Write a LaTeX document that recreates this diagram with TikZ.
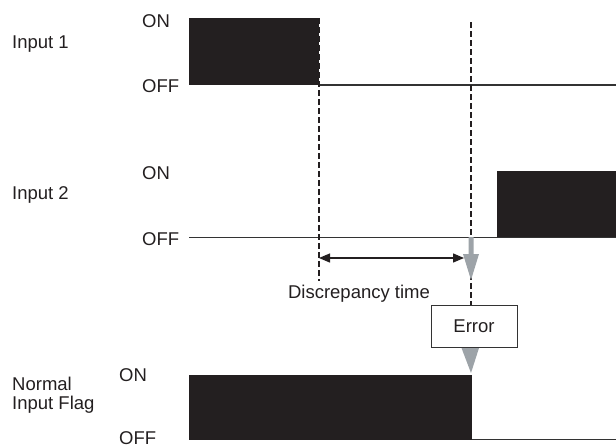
\documentclass[tikz,border=0pt]{standalone}
\usepackage{fontspec}
\setmainfont{Liberation Sans}
\usetikzlibrary{arrows.meta}
\definecolor{blk}{HTML}{231F20}
\definecolor{lin}{HTML}{333333}
\definecolor{gry}{HTML}{9DA3A8}
\begin{document}
\begin{tikzpicture}[x=1pt,y=-1pt,
  lbl/.style={inner sep=0pt,anchor=west,font=\fontsize{18.5}{18.5}\selectfont,text=blk},
  wave/.style={fill=blk,draw=none},
  base/.style={draw=lin,line width=1.3pt},
  dashline/.style={draw=blk,line width=1.3pt,dash pattern=on 6pt off 3pt}]
\useasboundingbox (0,0) rectangle (616,447);
% labels
\node[lbl] (in1) at (12,44) {Input 1};
\node[lbl] (on1) at (142,21.5) {ON};
\node[lbl] (off1) at (142,86.5) {OFF};
\node[lbl] (in2) at (12,195) {Input 2};
\node[lbl] (on2) at (142,173) {ON};
\node[lbl] (off2) at (142,239.5) {OFF};
\node[lbl,align=left] (nif) at (12,395) {Normal\\[0pt]Input Flag};
\node[lbl] (on3) at (119,375) {ON};
\node[lbl] (off3) at (119,438) {OFF};
% input 1
\fill[wave] (189,18) rectangle (319,85);
\draw[base] (319,85) -- (616,85);
% input 2
\draw[base,line width=1pt] (189,237) -- (616,237);
\fill[wave] (497,171) rectangle (616,237);
% error box
\node[draw=lin,line width=1pt,minimum width=86pt,minimum height=42pt,inner sep=0pt,font=\fontsize{18.5}{18.5}\selectfont,text=blk] (err) at (474,326) {Error};
% dashed lines
\coordinate (d1top) at (319,18);
\coordinate (d1bot) at (319,281);
\coordinate (d2top) at (471,22);
\draw[dashline] (d1top) -- (d1bot);
\draw[dashline] (d2top) -- (d2top |- err.north);
% discrepancy arrow
\coordinate (da) at (319,258);
\coordinate (db) at (464,258);
\draw[draw=blk,line width=1.3pt,{Triangle[length=11pt,width=9pt]}-{Triangle[length=11pt,width=9pt]}] (da) -- (db);
\node[lbl,anchor=center] (disc) at (359,294) {Discrepancy time};
% gray arrow down to error
\fill[gry] (468.5,237) -- (473.5,237) -- (473.5,254) -- (479,254) -- (471,280) -- (463,254) -- (468.5,254) -- cycle;
% gray triangle below error box
\fill[gry] (461.5,348) -- (479,348) -- (471,373) -- cycle;
% normal input flag
\fill[wave] (189,375) rectangle (472,440);
\draw[base] (472,439.5) -- (616,439.5);
\end{tikzpicture}
\end{document}
